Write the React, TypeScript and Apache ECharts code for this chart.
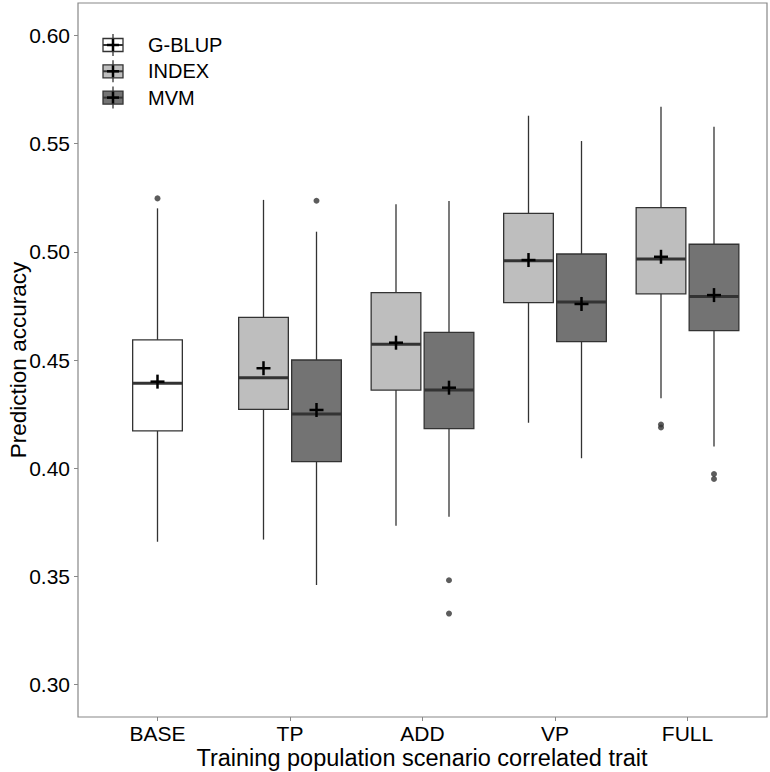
import React, { useEffect, useRef } from "react";
import * as echarts from "echarts";

// ---- data ----
const categories = ["BASE", "TP", "ADD", "VP", "FULL"];
const yTicks = [0.3, 0.35, 0.4, 0.45, 0.5, 0.55, 0.6];
const seriesNames = ["G-BLUP", "INDEX", "MVM"];
const seriesColors = ["#FFFFFF", "#BEBEBE", "#737373"];

// [categoryIndex, whiskerLow, Q1, median, Q3, whiskerHigh, mean]
const gblupBoxes = [[0, 0.366, 0.4172, 0.4392, 0.4593, 0.5201, 0.44]];
const indexBoxes = [
  [1, 0.367, 0.4272, 0.4418, 0.4697, 0.524, 0.4462],
  [2, 0.3734, 0.4361, 0.4573, 0.4811, 0.522, 0.458],
  [3, 0.421, 0.4765, 0.4959, 0.5178, 0.5629, 0.4962],
  [4, 0.4323, 0.4806, 0.4967, 0.5204, 0.5671, 0.4977],
];
const mvmBoxes = [
  [1, 0.346, 0.403, 0.425, 0.45, 0.5093, 0.4269],
  [2, 0.3776, 0.4183, 0.4361, 0.4628, 0.5235, 0.4372],
  [3, 0.4046, 0.4585, 0.4768, 0.499, 0.5512, 0.4759],
  [4, 0.41, 0.4636, 0.4793, 0.5035, 0.5578, 0.48],
];
// [categoryIndex, value]
const gblupOutliers = [[0, 0.5247]];
const indexOutliers = [
  [4, 0.4202],
  [4, 0.4188],
];
const mvmOutliers = [
  [1, 0.5236],
  [2, 0.3482],
  [2, 0.3328],
  [4, 0.3973],
  [4, 0.395],
];
const seriesOffsets = [0, -0.2, 0.2];

const BOX_W = 0.375;
const LINE = "#333333";
const FONT = '"Liberation Sans", Arial, sans-serif';

function toXY(rows: number[][], off: number) {
  return rows.map((r) => [r[0] + 1 + off, ...r.slice(1)]);
}

export default function App() {
  const ref = useRef<HTMLDivElement>(null);
  useEffect(() => {
    if (!ref.current) return;
    const chart = echarts.init(ref.current, null, { renderer: "svg" });

    const renderItem = (fill: string) => (params: any, api: any) => {
      const x = api.value(0);
      const low = api.value(1);
      const q1 = api.value(2);
      const med = api.value(3);
      const q3 = api.value(4);
      const high = api.value(5);
      const mean = api.value(6);
      const hw = api.size([BOX_W, 0])[0] / 2;
      const pLow = api.coord([x, low]);
      const pQ1 = api.coord([x, q1]);
      const pMed = api.coord([x, med]);
      const pQ3 = api.coord([x, q3]);
      const pHigh = api.coord([x, high]);
      const pMean = api.coord([x, mean]);
      const cx = pMed[0];
      const lw = { stroke: LINE, lineWidth: 1.3 };
      const cs = 7;
      return {
        type: "group",
        children: [
          { type: "line", shape: { x1: cx, y1: pHigh[1], x2: cx, y2: pQ3[1] }, style: lw },
          { type: "line", shape: { x1: cx, y1: pQ1[1], x2: cx, y2: pLow[1] }, style: lw },
          {
            type: "rect",
            shape: { x: cx - hw, y: pQ3[1], width: hw * 2, height: pQ1[1] - pQ3[1] },
            style: { fill, stroke: LINE, lineWidth: 1.3 },
          },
          {
            type: "line",
            shape: { x1: cx - hw, y1: pMed[1], x2: cx + hw, y2: pMed[1] },
            style: { stroke: LINE, lineWidth: 3 },
          },
          {
            type: "line",
            shape: { x1: cx - cs, y1: pMean[1], x2: cx + cs, y2: pMean[1] },
            style: { stroke: "#000", lineWidth: 2.5 },
          },
          {
            type: "line",
            shape: { x1: cx, y1: pMean[1] - cs, x2: cx, y2: pMean[1] + cs },
            style: { stroke: "#000", lineWidth: 2.5 },
          },
        ],
      };
    };

    const boxSets = [gblupBoxes, indexBoxes, mvmBoxes];
    const outSets = [gblupOutliers, indexOutliers, mvmOutliers];
    const series: any[] = [];
    boxSets.forEach((rows, i) => {
      series.push({
        name: seriesNames[i],
        type: "custom",
        renderItem: renderItem(seriesColors[i]),
        data: toXY(rows, seriesOffsets[i]),
        encode: { x: 0, y: [1, 2, 3, 4, 5, 6] },
        z: 2,
      });
    });
    outSets.forEach((rows, i) => {
      series.push({
        name: seriesNames[i] + " outliers",
        type: "scatter",
        data: toXY(rows, seriesOffsets[i]),
        symbol: "circle",
        symbolSize: 6,
        itemStyle: { color: LINE },
        z: 3,
      });
    });

    // legend keys
    const legendEls: any[] = [];
    seriesNames.forEach((name, i) => {
      const cy = 45 + i * 26.3;
      const cx = 113;
      legendEls.push(
        { type: "line", shape: { x1: cx, y1: cy - 11, x2: cx, y2: cy + 11 }, style: { stroke: LINE, lineWidth: 1.3 } },
        {
          type: "rect",
          shape: { x: cx - 10, y: cy - 6.5, width: 20, height: 13 },
          style: { fill: seriesColors[i], stroke: LINE, lineWidth: 1.3 },
        },
        { type: "line", shape: { x1: cx - 10, y1: cy, x2: cx + 10, y2: cy }, style: { stroke: LINE, lineWidth: 2 } },
        { type: "line", shape: { x1: cx - 6, y1: cy, x2: cx + 6, y2: cy }, style: { stroke: "#000", lineWidth: 2.5 } },
        { type: "line", shape: { x1: cx, y1: cy - 6, x2: cx, y2: cy + 6 }, style: { stroke: "#000", lineWidth: 2.5 } },
        {
          type: "text",
          x: 148,
          y: cy,
          style: {
            text: name,
            fill: "#000",
            font: `20px ${FONT}`,
            verticalAlign: "middle",
            align: "left",
          },
        }
      );
    });

    chart.setOption({
      animation: false,
      backgroundColor: "#fff",
      grid: {
        left: 78,
        right: 3,
        top: 3,
        bottom: 55,
        show: true,
        borderColor: "#888",
        borderWidth: 1.2,
        backgroundColor: "transparent",
      },
      xAxis: {
        type: "value",
        min: 0.4,
        max: 5.6,
        splitLine: { show: false },
        axisLine: { show: false },
        axisTick: { show: true, length: 4, lineStyle: { color: "#888" }, customValues: [1, 2, 3, 4, 5] },
        axisLabel: {
          customValues: [1, 2, 3, 4, 5],
          formatter: (v: number) => categories[Math.round(v) - 1] ?? "",
          fontSize: 21,
          color: "#000",
          fontFamily: FONT,
          margin: 6,
        },
      },
      yAxis: {
        type: "value",
        min: 0.285,
        max: 0.615,
        splitLine: { show: false },
        axisLine: { show: false },
        axisTick: { show: true, length: 4, lineStyle: { color: "#888" }, customValues: yTicks },
        axisLabel: {
          customValues: yTicks,
          formatter: (v: number) => v.toFixed(2),
          fontSize: 21,
          color: "#000",
          fontFamily: FONT,
          margin: 8,
        },
      },
      graphic: [
        ...legendEls,
        {
          type: "text",
          x: 422,
          y: 758,
          style: {
            text: "Training population scenario correlated trait",
            fill: "#000",
            font: `23.5px ${FONT}`,
            align: "center",
            verticalAlign: "middle",
          },
        },
        {
          type: "text",
          x: 18,
          y: 360,
          rotation: Math.PI / 2,
          style: {
            text: "Prediction accuracy",
            fill: "#000",
            font: `22.5px ${FONT}`,
            align: "center",
            verticalAlign: "middle",
          },
        },
      ],
      series,
    });
    return () => chart.dispose();
  }, []);
  return <div ref={ref} style={{ width: 770, height: 772, position: "absolute", left: 0, top: 0 }} />;
}
